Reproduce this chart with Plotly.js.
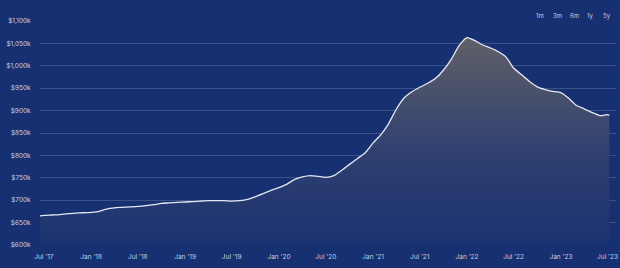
<!DOCTYPE html>
<html>
<head>
<meta charset="utf-8">
<script src="https://cdn.plot.ly/plotly-3.0.1.min.js"></script>
<style>
html,body{margin:0;padding:0;background:#163071;}
#chart{width:620px;height:268px;}
</style>
</head>
<body>
<div id="chart"></div>
<script>
// Monthly values ($k), first point mid-June 2017, then Jul 2017 .. Jul 2023, last point early Jul 2023
const startDate = "2017-06-16";
const endDate = "2023-07-08";
const values = [
  665,
  666, 667, 668, 670, 671, 672,
  673, 675, 680, 683, 684, 685,
  686, 688, 690, 693, 694, 695,
  696, 697, 698, 699, 699, 699,
  698, 699, 702, 708, 715, 722,
  728, 736, 746, 752, 755, 753,
  751, 755, 767, 780, 793, 806,
  828, 847, 870, 903, 928, 942,
  952, 961, 972, 990, 1015, 1045,
  1063, 1056, 1047, 1040, 1032, 1020,
  995, 980, 965, 953, 947, 943,
  940, 927, 912, 904, 896, 889,
  891,
  889
];
const yTickVals = [600, 650, 700, 750, 800, 850, 900, 950, 1000, 1050, 1100];
const yTickText = ["$600k","$650k","$700k","$750k","$800k","$850k","$900k","$950k","$1,000k","$1,050k","$1,100k"];
const xTickVals = ["2017-07-01","2018-01-01","2018-07-01","2019-01-01","2019-07-01","2020-01-01","2020-07-01","2021-01-01","2021-07-01","2022-01-01","2022-07-01","2023-01-01","2023-07-01"];
const xTickText = ["Jul '17","Jan '18","Jul '18","Jan '19","Jul '19","Jan '20","Jul '20","Jan '21","Jul '21","Jan '22","Jul '22","Jan '23","Jul '23"];
const rangeButtons = ["1m","3m","6m","1y","5y"];

// build dates: start, monthly first-of-month Jul 2017..Jul 2023, end
const dates = [startDate];
for (let y = 2017, m = 7; y < 2023 || (y === 2023 && m <= 7); ) {
  dates.push(y + "-" + String(m).padStart(2, "0") + "-01");
  m++; if (m > 12) { m = 1; y++; }
}
dates.push(endDate);

const trace = {
  x: dates,
  y: values,
  type: "scatter",
  mode: "lines",
  line: {color: "#e4e8f2", width: 1.3, shape: "spline", smoothing: 0.6},
  fill: "tozeroy",
  fillgradient: {
    type: "vertical",
    start: 600,
    stop: 1065,
    colorscale: [[0, "rgb(27,51,113)"], [0.45, "rgb(48,64,112)"], [1, "rgb(96,96,103)"]]
  },
  hoverinfo: "skip"
};

const btnX = [540, 557, 574, 590, 607];
const plotW = 620 - 40 - 4, plotH = 268 - 21 - 23;

const layout = {
  width: 620, height: 268,
  margin: {l: 40, r: 4, t: 21, b: 23, pad: 0},
  paper_bgcolor: "#163071",
  plot_bgcolor: "#163071",
  showlegend: false,
  font: {family: "Inter, Liberation Sans, sans-serif", size: 6.5, color: "#c9d0e4"},
  xaxis: {
    type: "date",
    range: ["2017-06-16", "2023-08-03"],
    tickvals: xTickVals,
    ticktext: xTickText,
    showgrid: false,
    zeroline: false,
    showline: false,
    ticks: "outside", ticklen: 5, tickcolor: "rgba(0,0,0,0)",
    tickfont: {size: 6.5, color: "#c9d0e4"},
    fixedrange: true
  },
  yaxis: {
    range: [600, 1100],
    tickvals: yTickVals,
    ticktext: yTickText,
    showgrid: true,
    gridcolor: "rgba(255,255,255,0.16)",
    gridwidth: 1,
    zeroline: false,
    showline: false,
    ticks: "outside", ticklen: 7, tickcolor: "rgba(0,0,0,0)",
    tickfont: {size: 6.5, color: "#c9d0e4"},
    fixedrange: true
  },
  annotations: rangeButtons.map((t, i) => ({
    text: t,
    x: (btnX[i] - 40) / plotW,
    y: (268 - 23 - 16) / plotH,
    xref: "paper", yref: "paper",
    xanchor: "center", yanchor: "middle",
    showarrow: false,
    font: {size: 6, color: "#c9d0e4"}
  }))
};

Plotly.newPlot("chart", [trace], layout, {displayModeBar: false, staticPlot: true});
</script>
</body>
</html>
